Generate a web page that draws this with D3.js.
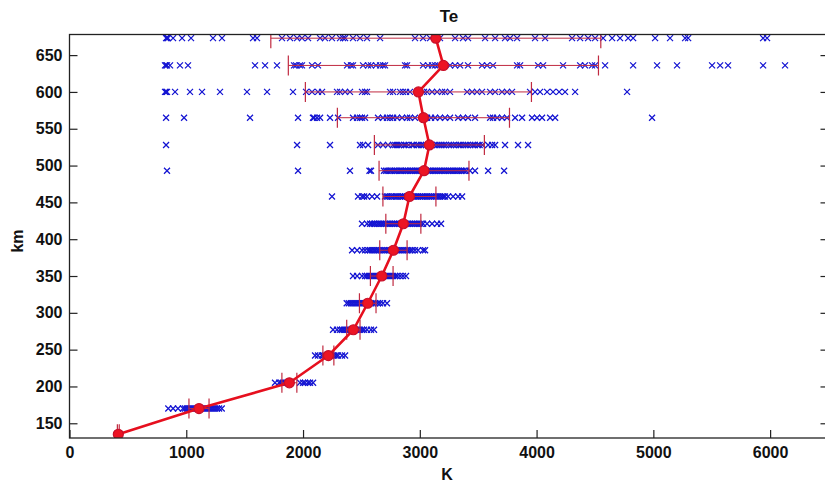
<!DOCTYPE html>
<html>
<head>
<meta charset="utf-8">
<script src="https://cdn.jsdelivr.net/npm/d3@7"></script>
<style>
  html, body { margin: 0; padding: 0; background: #fff; }
  svg { display: block; font-family: "Liberation Sans", Arial, sans-serif; }
</style>
</head>
<body>
<svg id="chart" width="825" height="483"></svg>
<script>
// Altitude levels (km) of the electron temperature profile
const altitudeKm = [135, 170, 205, 242, 277, 313, 350, 385, 421, 458, 493, 528, 565, 600, 636, 673];

// Mean Te (K) at each level and its standard deviation (K)
const meanTe = [418, 1109, 1883, 2217, 2431, 2554, 2674, 2774, 2859, 2911, 3036, 3082, 3031, 2988, 3202, 3137];
const stdTe  = [8, 86, 64, 47, 57, 71, 97, 117, 150, 227, 385, 471, 737, 968, 1328, 1413];

// Individual Te samples (K) per level
const te135 = [418];
const te170 = [846, 887, 929, 972, 989, 1006, 1024, 1041, 1058, 1075, 1092, 1110, 1127, 1144, 1161, 1178, 1195, 1212, 1229, 1246, 1263, 1281, 1304];
const te205 = [1760, 1795, 1812, 1829, 1846, 1863, 1889, 1974, 2000, 2017, 2043, 2060, 2086];
const te242 = [2103, 2128, 2160, 2175, 2190, 2206, 2221, 2237, 2252, 2268, 2284, 2300, 2334, 2360];
const te277 = [2257, 2291, 2317, 2334, 2350, 2367, 2384, 2401, 2418, 2436, 2452, 2470, 2487, 2505, 2522, 2548, 2582, 2608];
const te313 = [2374, 2392, 2410, 2427, 2445, 2462, 2480, 2497, 2514, 2532, 2549, 2566, 2584, 2601, 2619, 2640, 2659, 2685, 2719];
const te350 = [2428, 2463, 2505, 2531, 2548, 2566, 2583, 2600, 2618, 2634, 2652, 2669, 2686, 2703, 2720, 2737, 2754, 2771, 2789, 2806, 2831, 2856, 2882];
const te385 = [2420, 2463, 2505, 2531, 2557, 2574, 2590, 2608, 2623, 2640, 2655, 2672, 2690, 2705, 2722, 2738, 2755, 2770, 2788, 2803, 2820, 2836, 2853, 2870, 2887, 2902, 2919, 2935, 2959, 2985, 3028, 3045];
const te421 = [2505, 2548, 2574, 2590, 2606, 2619, 2637, 2652, 2668, 2683, 2698, 2714, 2729, 2744, 2760, 2776, 2791, 2806, 2822, 2838, 2853, 2869, 2884, 2899, 2915, 2930, 2946, 2961, 2977, 2993, 3008, 3028, 3062, 3105, 3148, 3182];
const te458 = [2248, 2471, 2505, 2523, 2548, 2591, 2634, 2702, 2718, 2731, 2750, 2764, 2781, 2797, 2810, 2829, 2845, 2858, 2874, 2890, 2905, 2921, 2936, 2950, 2968, 2983, 2999, 3015, 3029, 3046, 3061, 3077, 3093, 3108, 3124, 3140, 3156, 3171, 3188, 3203, 3216, 3242, 3285, 3328, 3362];
const te493 = [835, 1957, 2402, 2569, 2582, 2693, 2710, 2724, 2745, 2758, 2776, 2790, 2806, 2825, 2838, 2853, 2870, 2884, 2899, 2917, 2930, 2946, 2962, 2975, 2990, 3008, 3021, 3037, 3052, 3068, 3083, 3097, 3115, 3128, 3144, 3160, 3176, 3189, 3206, 3220, 3238, 3253, 3268, 3285, 3300, 3318, 3332, 3350, 3364, 3378, 3396, 3430, 3473, 3585, 3722];
const te528 = [827, 1949, 2231, 2488, 2514, 2557, 2642, 2685, 2728, 2771, 2790, 2805, 2822, 2841, 2866, 2880, 2904, 2935, 2947, 2973, 2990, 3011, 3030, 3052, 3070, 3088, 3101, 3127, 3150, 3168, 3186, 3205, 3224, 3250, 3268, 3290, 3311, 3334, 3349, 3372, 3392, 3410, 3433, 3455, 3471, 3496, 3512, 3537, 3585, 3619, 3645, 3730, 3841, 3927];
const te565 = [827, 981, 1546, 1957, 2085, 2094, 2120, 2146, 2231, 2300, 2428, 2463, 2488, 2505, 2531, 2642, 2685, 2719, 2745, 2771, 2805, 2848, 2891, 2916, 2959, 3028, 3062, 3096, 3131, 3173, 3216, 3259, 3328, 3370, 3413, 3473, 3602, 3627, 3662, 3704, 3747, 3816, 3876, 3961, 4004, 4047, 4116, 4159, 4989];
const te600 = [818, 827, 835, 904, 1032, 1135, 1289, 1520, 1692, 1914, 2026, 2077, 2128, 2163, 2291, 2317, 2360, 2402, 2505, 2531, 2548, 2745, 2771, 2831, 2856, 2882, 2916, 2985, 3036, 3062, 3105, 3148, 3191, 3216, 3259, 3405, 3448, 3490, 3533, 3602, 3645, 3704, 3747, 3790, 3944, 3987, 4030, 4090, 4141, 4193, 4244, 4330, 4775];
const te636 = [818, 827, 835, 861, 946, 1015, 1589, 1675, 1777, 1923, 1940, 1974, 1991, 2077, 2128, 2377, 2411, 2428, 2514, 2557, 2582, 2625, 2660, 2685, 2702, 2874, 2891, 3028, 3071, 3105, 3131, 3156, 3259, 3302, 3345, 3413, 3533, 3576, 3627, 3833, 3859, 4013, 4056, 4227, 4373, 4415, 4475, 4501, 4587, 4827, 5032, 5203, 5503, 5572, 5640, 5940, 6128];
const te673 = [827, 835, 844, 887, 964, 1041, 1229, 1306, 1572, 1606, 1820, 1889, 1949, 1991, 2043, 2146, 2188, 2248, 2317, 2343, 2360, 2428, 2488, 2548, 2660, 2959, 3028, 3088, 3173, 3302, 3370, 3413, 3559, 3645, 3730, 3773, 3833, 3987, 4073, 4304, 4373, 4441, 4501, 4570, 4647, 4715, 4784, 4827, 5015, 5143, 5272, 5298, 5940, 5974];

const samplesByLevel = [te135, te170, te205, te242, te277, te313, te350, te385, te421, te458, te493, te528, te565, te600, te636, te673];

// Axis ticks
const xTicks = [0, 1000, 2000, 3000, 4000, 5000, 6000];
const yTicks = [150, 200, 250, 300, 350, 400, 450, 500, 550, 600, 650];

// Layout
const W = 825, H = 483;
const margin = { left: 69.5, right: 828.5, top: 34.5, bottom: 438 };

const svg = d3.select("#chart");
svg.append("rect").attr("width", W).attr("height", H).attr("fill", "#fff");

const x = d3.scaleLinear().domain([0, 6500]).range([margin.left, margin.right]);
const y = d3.scaleLinear().domain([130, 678]).range([margin.bottom, margin.top]);

svg.append("clipPath").attr("id", "plotClip")
  .append("rect")
  .attr("x", margin.left).attr("y", margin.top)
  .attr("width", margin.right - margin.left)
  .attr("height", margin.bottom - margin.top);

const plot = svg.append("g").attr("clip-path", "url(#plotClip)");

// Sample crosses
const crossColor = "#1414d2";
const crossPts = [];
samplesByLevel.forEach((arr, i) => arr.forEach(v => crossPts.push({ t: v, h: altitudeKm[i] })));
plot.append("g")
  .selectAll("path")
  .data(crossPts)
  .join("path")
  .attr("transform", d => `translate(${x(d.t)},${y(d.h)})`)
  .attr("d", "M-3,-3L3,3M-3,3L3,-3")
  .attr("stroke", crossColor)
  .attr("stroke-width", 1.25)
  .attr("fill", "none");

// Error bars (mean ± std)
const profile = altitudeKm.map((h, i) => ({ h, m: meanTe[i], s: stdTe[i] }));
const ebColor = "#c02a40";
const capHalf = 10;
const eb = plot.append("g").attr("stroke", ebColor).attr("fill", "none");
eb.selectAll("line.span")
  .data(profile)
  .join("line")
  .attr("class", "span")
  .attr("x1", d => x(d.m - d.s)).attr("x2", d => x(d.m + d.s))
  .attr("y1", d => y(d.h)).attr("y2", d => y(d.h))
  .attr("stroke-width", 1);
eb.selectAll("line.capL")
  .data(profile)
  .join("line")
  .attr("class", "capL")
  .attr("x1", d => x(d.m - d.s)).attr("x2", d => x(d.m - d.s))
  .attr("y1", d => y(d.h) - capHalf).attr("y2", d => y(d.h) + capHalf)
  .attr("stroke-width", 1.2);
eb.selectAll("line.capR")
  .data(profile)
  .join("line")
  .attr("class", "capR")
  .attr("x1", d => x(d.m + d.s)).attr("x2", d => x(d.m + d.s))
  .attr("y1", d => y(d.h) - capHalf).attr("y2", d => y(d.h) + capHalf)
  .attr("stroke-width", 1.2);

// Mean profile line with circle markers
const line = d3.line().x(d => x(d.m)).y(d => y(d.h));
plot.append("path")
  .datum(profile)
  .attr("d", line)
  .attr("fill", "none")
  .attr("stroke", "#e60f1e")
  .attr("stroke-width", 2.6)
  .attr("stroke-linejoin", "round");
plot.append("g")
  .selectAll("circle")
  .data(profile)
  .join("circle")
  .attr("cx", d => x(d.m)).attr("cy", d => y(d.h))
  .attr("r", 5)
  .attr("fill", "#ec1424")
  .attr("stroke", "#c8102a")
  .attr("stroke-width", 1.2);

// Axes
const axisColor = "#222";
const fontSize = 16;

const xAxis = svg.append("g")
  .attr("transform", `translate(0,${margin.bottom})`)
  .call(d3.axisBottom(x).tickValues(xTicks).tickFormat(d3.format("d")).tickSizeInner(-8).tickSizeOuter(0).tickPadding(9));
const yAxis = svg.append("g")
  .attr("transform", `translate(${margin.left},0)`)
  .call(d3.axisLeft(y).tickValues(yTicks).tickFormat(d3.format("d")).tickSizeInner(-8).tickSizeOuter(0).tickPadding(7));
const yAxisR = svg.append("g")
  .attr("transform", `translate(${margin.right},0)`)
  .call(d3.axisRight(y).tickValues(yTicks).tickFormat("").tickSizeInner(-8).tickSizeOuter(0));

[xAxis, yAxis, yAxisR].forEach(g => {
  g.select(".domain").remove();
  g.selectAll(".tick line").attr("stroke", axisColor).attr("stroke-width", 1.2);
  g.selectAll(".tick text")
    .attr("fill", "#111")
    .style("font-family", "'Liberation Sans', Arial, sans-serif")
    .style("font-size", fontSize + "px")
    .style("font-weight", "bold");
});

// Axes box
svg.append("rect")
  .attr("x", margin.left).attr("y", margin.top)
  .attr("width", margin.right - margin.left)
  .attr("height", margin.bottom - margin.top)
  .attr("fill", "none")
  .attr("stroke", axisColor)
  .attr("stroke-width", 1.3);

// Title and axis labels
svg.append("text")
  .attr("x", (margin.left + margin.right) / 2).attr("y", 21.5)
  .attr("text-anchor", "middle")
  .style("font-size", "17px").style("font-weight", "bold")
  .attr("fill", "#111")
  .text("Te");

svg.append("text")
  .attr("x", 447).attr("y", 480)
  .attr("text-anchor", "middle")
  .style("font-size", fontSize + "px").style("font-weight", "bold")
  .attr("fill", "#111")
  .text("K");

svg.append("text")
  .attr("transform", "translate(23,241) rotate(-90)")
  .attr("text-anchor", "middle")
  .style("font-size", fontSize + "px").style("font-weight", "bold")
  .attr("fill", "#111")
  .text("km");
</script>
</body>
</html>
